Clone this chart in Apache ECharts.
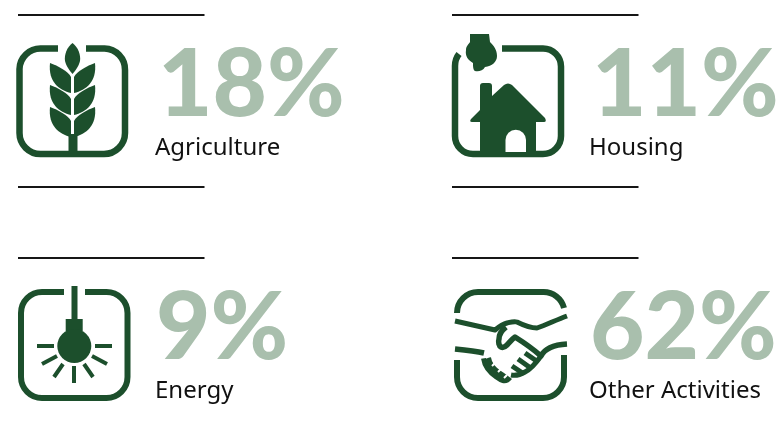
<!DOCTYPE html>
<html>
<head>
<meta charset="utf-8">
<style>
html, body { margin: 0; padding: 0; background: #fff; }
#main { width: 780px; height: 426px; }
</style>
<script src="https://cdn.jsdelivr.net/npm/echarts@6/dist/echarts.min.js"></script>
</head>
<body>
<div id="main"></div>
<script>
var categories = ['Agriculture', 'Housing', 'Energy', 'Other Activities'];
var shares = [18, 11, 9, 62];

var green = '#1c4f2c';
var pale = '#a9bfad';
var line = '#161616';

// left edge and top rule of every panel
var panelX = [0, 434, 0, 434];
var panelY = [0, 0, 243, 243];

function stroked(d, w, extra) {
	return {
		type: 'path',
		shape: { pathData: d },
		style: { fill: 'none', stroke: extra || green, lineWidth: w, lineCap: 'butt', lineJoin: 'round' },
		silent: true
	};
}

function filled(d, c) {
	return {
		type: 'path',
		shape: { pathData: d },
		style: { fill: c || green, stroke: null },
		silent: true
	};
}

function icon1() {
	var out = [stroked('M58 48.500H41A21 21 0 0 0 19.500 70V133A21 21 0 0 0 41 154H104A21 21 0 0 0 125 133V70A21 21 0 0 0 104 48.500H86', 6.5)];
	out.push(filled('M72.500 43C78 47 81 55 80 61C79 66 75 71 72.500 74C70 71 66 66 65 61C64 55 67 47 72.500 43Z'));
	[0, 22, 44].forEach(function(dy) {
		var a = 63 + dy;
		out.push(filled('M50 ' + a + 'C58 ' + (a + 3) + ' 68 ' + (a + 8) + ' 71 ' + (a + 14) + 'L71 ' + (a + 30) + 'C59 ' + (a + 27) + ' 48 ' + (a + 19) + ' 50 ' + a + 'Z'));
		out.push(filled('M95 ' + a + 'C87 ' + (a + 3) + ' 77 ' + (a + 8) + ' 74 ' + (a + 14) + 'L74 ' + (a + 30) + 'C86 ' + (a + 27) + ' 97 ' + (a + 19) + ' 95 ' + a + 'Z'));
	});
	out.push(filled('M68.500 134H77.500V155H68.500Z'));
	return out;
}

function icon2() {
	var out = [stroked('M502 48.500H543A18 18 0 0 1 561 67V136A18 18 0 0 1 543 154H473A18 18 0 0 1 455 136V66Q455 59 459 54', 6.5)];
	// smoke
	out.push(filled('M470 34H489L490 42C494 46 497 50 497 56C497 62 492 66 485 67C483 71 478 72 475 71C473 70 473 66 473 63C468 60 465 56 466 50C466 46 469 44 470 42Z'));
	// house with chimney
	out.push(filled('M480 86Q480 83 483 83H489Q492 83 492 86V96L504 85Q508 82 512 85L545 118Q547 122 544 122H536V155H480V122H472Q469 122 471 119L480 110Z'));
	out.push(filled('M505.500 152V140A10.200 10.200 0 0 1 526 140V152Z', '#fff'));
	return out;
}

function icon3() {
	var out = [stroked('M64 292H42A21 21 0 0 0 21 313V377A21 21 0 0 0 42 398H106.500A21 21 0 0 0 127.500 377V313A21 21 0 0 0 106.500 292H85', 6)];
	out.push(filled('M71.500 286H77.500V319H82.700V331H65.700V319H71.500Z'));
	out.push({ type: 'circle', shape: { cx: 74.3, cy: 346, r: 17 }, style: { fill: green }, silent: true });
	out.push(stroked('M37 346H54M95 346H112M42 364L57 356M54 377L63 364M74 383V366M93 377L84 364M107 364L92 356', 4));
	return out;
}

function icon4() {
	var out = [];
	out.push(stroked('M457 313A21 21 0 0 1 478 292H543A21 21 0 0 1 564 308', 6));
	out.push(stroked('M457 360V377A21 21 0 0 0 478 398H543A21 21 0 0 0 564 377V355', 6));
	// upper wrists
	out.push(stroked('M455 321L495 330C500 326 503 324 507 323C511 322 514 321 517 322C523 325 530 328 537 328C546 325 556 320 567 316', 5));
	// thumb loop and right hand
	out.push(stroked('M506 327C501 331 499 335 499 339C498 342 499 346 501 347C503 348 505 347 507 345C510 342 512 339 515 337C523 342 533 349 541 356C544 350 551 345 567 344', 5.5));
	// lower left arm
	out.push(stroked('M455 349C465 350 475 351 484 353', 5.5));
	out.push(stroked('M541 356C536 363 531 369 525 372C520 375 516 376 511 375', 5));
	// fingers
	out.push(stroked('M486 358C487 365 492 371 498 375C502 378 505 380 508 376', 10));
	out.push(stroked('M512 366L524 374M518 359L532 369M525 353L538 362', 5));
	out.push(stroked('M486 358L489 356M492 366L495 363M498 372L501 369M504 378L507 375', 2, '#fff'));
	return out;
}

var icons = [icon1(), icon2(), icon3(), icon4()];

// x offset of number and label from the panel edge
var numberX = [158, 158, 156, 156];
var labelX = 155;

function renderPanel(params, api) {
	var i = params.dataIndex;
	var x = panelX[i], y = panelY[i];
	var yTop = i < 2 ? 15 : 258;
	var kids = [{
		type: 'rect',
		shape: { x: x + 18, y: yTop - 1, width: 186.5, height: 2 },
		style: { fill: line },
		silent: true
	}];
	if (i < 2) {
		kids.push({
			type: 'rect',
			shape: { x: x + 18, y: 186, width: 186.5, height: 2 },
			style: { fill: line },
			silent: true
		});
	}
	kids = kids.concat(icons[i]);
	kids.push({
		type: 'text',
		x: x + numberX[i],
		y: y + 39,
		silent: true,
		style: {
			text: api.value(0) + '%',
			fontFamily: 'Lato',
			fontWeight: 900,
			fontSize: 94,
			fill: pale,
			align: 'left'
		}
	});
	kids.push({
		type: 'text',
		x: x + labelX,
		y: y + 136,
		silent: true,
		style: {
			text: categories[i],
			fontFamily: 'Noto Sans',
			fontSize: 24,
			fill: '#111',
			align: 'left'
		}
	});
	return { type: 'group', children: kids };
}

var chart = echarts.init(document.getElementById('main'));
chart.setOption({
	backgroundColor: '#fff',
	animation: false,
	series: [{
		type: 'custom',
		coordinateSystem: 'none',
		silent: true,
		renderItem: renderPanel,
		data: shares
	}]
});
</script>
</body>
</html>
